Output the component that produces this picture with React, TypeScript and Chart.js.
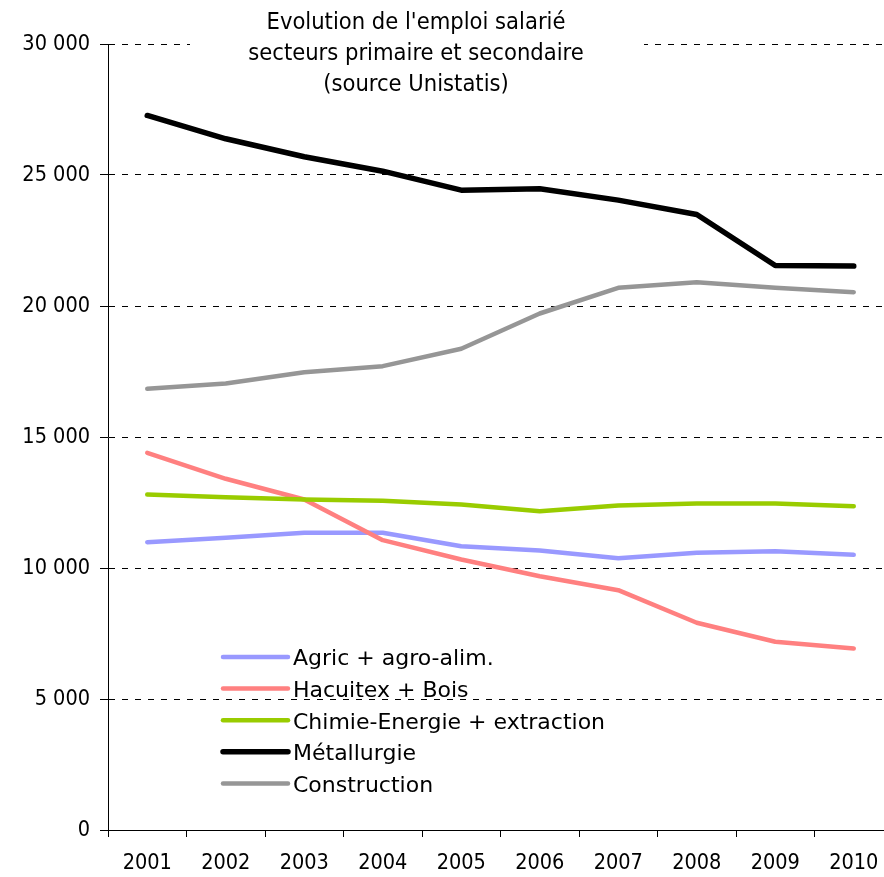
import React, { useEffect, useRef } from "react";
import { Chart, registerables } from "chart.js";

Chart.register(...registerables);

const years = ["2001", "2002", "2003", "2004", "2005", "2006", "2007", "2008", "2009", "2010"];
const agric = [10985, 11153, 11344, 11344, 10833, 10668, 10375, 10581, 10642, 10504];
const hacuitex = [14398, 13405, 12615, 11062, 10325, 9688, 9153, 7909, 7184, 6928];
const chimie = [12806, 12703, 12615, 12566, 12424, 12169, 12386, 12462, 12462, 12360];
const metallurgie = [27272, 26383, 25696, 25146, 24421, 24475, 24040, 23494, 21547, 21522];
const construction = [16840, 17043, 17474, 17704, 18367, 19714, 20696, 20910, 20696, 20528];

const seriesLabels = [
  "Agric + agro-alim.",
  "Hacuitex + Bois",
  "Chimie-Energie + extraction",
  "Métallurgie",
  "Construction",
];
const seriesColors = ["#9999FF", "#FF8080", "#99CC00", "#000000", "#969696"];
const seriesWidths = [4.5, 4.5, 4.5, 5.5, 4.5];
const titleLines = [
  "Evolution de l'emploi salarié",
  "secteurs primaire et secondaire",
  "(source Unistatis)",
];

const FONT_C = '"DejaVu Sans Condensed", "DejaVu Sans", sans-serif';
const FONT = '"DejaVu Sans", sans-serif';

function fmt(v: number): string {
  const s = String(Math.round(v));
  return s.replace(/\B(?=(\d{3})+(?!\d))/g, " ");
}

const titlePlugin = {
  id: "boxTitle",
  beforeDatasetsDraw(chart: any) {
    const ctx = chart.ctx;
    ctx.save();
    ctx.fillStyle = "#ffffff";
    ctx.fillRect(190, 0, 454, 100);
    ctx.fillStyle = "#000000";
    ctx.font = `23.5px ${FONT_C}`;
    ctx.textAlign = "center";
    ctx.textBaseline = "alphabetic";
    titleLines.forEach((t, i) => {
      ctx.fillText(t, 416, 28.8 + i * 31);
    });
    ctx.restore();
  },
};

const legendPlugin = {
  id: "innerLegend",
  afterDraw(chart: any) {
    const ctx = chart.ctx;
    ctx.save();
    const ds = chart.data.datasets;
    ds.forEach((d: any, i: number) => {
      const y = 657 + i * 31.6;
      ctx.strokeStyle = d.borderColor;
      ctx.lineWidth = d.borderWidth;
      ctx.lineCap = "round";
      ctx.beginPath();
      ctx.moveTo(223, y);
      ctx.lineTo(288, y);
      ctx.stroke();
      ctx.fillStyle = "#000000";
      ctx.font = `22px ${FONT}`;
      ctx.textAlign = "left";
      ctx.textBaseline = "alphabetic";
      ctx.fillText(d.label, 293, y + 8.3);
    });
    ctx.restore();
  },
};

export default function App() {
  const ref = useRef<HTMLCanvasElement | null>(null);

  useEffect(() => {
    if (!ref.current) return;
    const data = [agric, hacuitex, chimie, metallurgie, construction];
    const chart = new Chart(ref.current, {
      type: "line",
      data: {
        labels: years,
        datasets: data.map((vals, i) => ({
          label: seriesLabels[i],
          data: vals,
          borderColor: seriesColors[i],
          backgroundColor: seriesColors[i],
          borderWidth: seriesWidths[i],
          pointRadius: 0,
          tension: 0,
          fill: false,
          borderCapStyle: "round" as const,
          borderJoinStyle: "round" as const,
          order: 4 - i,
        })),
      },
      options: {
        responsive: false,
        animation: false,
        devicePixelRatio: 1,
        layout: { padding: { top: 44, right: 1, left: 0, bottom: 0 } },
        plugins: {
          legend: { display: false },
          title: { display: false },
          tooltip: { enabled: false },
        },
        scales: {
          x: {
            type: "category",
            offset: true,
            grid: {
              offset: true,
              drawOnChartArea: false,
              drawTicks: true,
              tickLength: 7,
              tickColor: "#000000",
              tickWidth: 1,
            },
            border: { display: true, color: "#000000", width: 1 },
            ticks: {
              color: "#000000",
              font: { family: FONT_C, size: 21.5 },
              padding: 14,
              maxRotation: 0,
              autoSkip: false,
            },
            afterFit(scale: any) {
              scale.height = 47;
            },
          },
          y: {
            min: 0,
            max: 30000,
            ticks: {
              stepSize: 5000,
              color: "#000000",
              font: { family: FONT_C, size: 21.5 },
              padding: 10,
              callback: (v: any) => fmt(Number(v)),
            },
            grid: {
              color: "#000000",
              lineWidth: 1,
              drawTicks: true,
              tickLength: 8,
              tickColor: "#000000",
            },
            border: { display: true, color: "#000000", width: 1, dash: [6, 7] },
            afterFit(scale: any) {
              scale.width = 108;
            },
          },
        },
      },
      plugins: [titlePlugin, legendPlugin],
    });
    return () => chart.destroy();
  }, []);

  return (
    <div
      style={{
        position: "fixed",
        left: 0,
        top: 0,
        width: 884,
        height: 877,
        overflow: "hidden",
        background: "#ffffff",
      }}
    >
      <canvas ref={ref} width={894} height={877} style={{ display: "block", width: 894, height: 877 }} />
    </div>
  );
}
